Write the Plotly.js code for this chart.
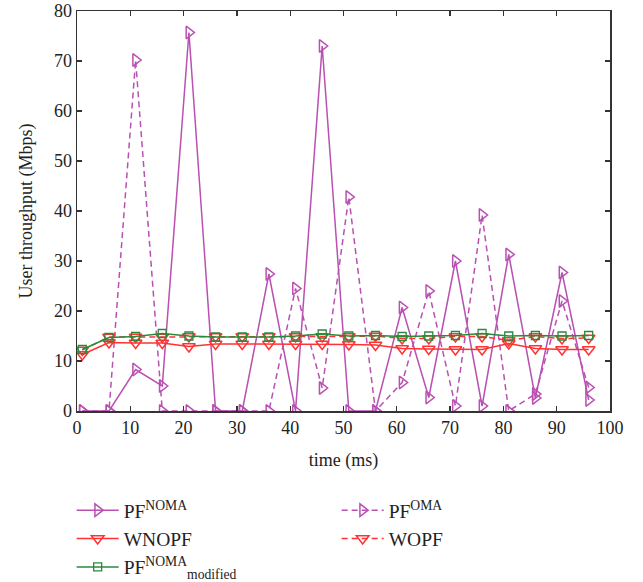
<!DOCTYPE html>
<html>
<head>
<meta charset="utf-8">
<script src="https://cdn.plot.ly/plotly-3.0.1.min.js"></script>
<style>html,body{margin:0;padding:0;background:#fff;}#chart{width:643px;height:582px;}</style>
</head>
<body>
<div id="chart"></div>
<script>
var timeMs = [1, 6, 11, 16, 21, 26, 31, 36, 41, 46, 51, 56, 61, 66, 71, 76, 81, 86, 91, 96];
var pfNoma = [0, 0, 8.3, 5.0, 75.7, 0, 0, 27.4, 0, 73.0, 0, 0, 20.7, 2.7, 30.0, 1.0, 31.3, 2.6, 27.7, 2.2];
var pfOma = [0, 0, 70.2, 0, 0, 0, 0, 0, 24.5, 4.6, 42.8, 0, 5.7, 24.0, 1.0, 39.2, 0, 3.4, 22.0, 4.7];
var wnopf = [11.3, 13.7, 13.6, 13.6, 12.9, 13.4, 13.4, 13.4, 13.4, 13.4, 13.3, 13.2, 12.5, 12.4, 12.3, 12.3, 13.5, 12.5, 12.3, 12.3];
var wopf = [12.2, 14.8, 14.8, 14.8, 14.9, 14.9, 14.9, 14.9, 14.9, 14.9, 14.9, 15.0, 14.5, 14.5, 14.9, 14.9, 14.1, 14.9, 14.5, 14.6];
var pfModified = [12.3, 14.7, 14.9, 15.5, 15.0, 14.8, 14.8, 14.8, 15.0, 15.4, 15.0, 15.1, 14.9, 15.0, 15.1, 15.5, 15.0, 15.1, 15.0, 15.1];
var xTicks = [0, 10, 20, 30, 40, 50, 60, 70, 80, 90, 100];
var yTicks = [0, 10, 20, 30, 40, 50, 60, 70, 80];

var magenta = '#b950b2';
var red = '#ff3333';
var green = '#2a8a3c';
var serif = 'Liberation Serif, Times New Roman, serif';

var traces = [
  {x: timeMs, y: pfNoma, name: 'PF<sup>NOMA</sup>', mode: 'lines+markers',
   line: {color: magenta, width: 1.5},
   marker: {symbol: 'triangle-right-open', size: 11, color: magenta, line: {width: 1.5, color: magenta}}},
  {x: timeMs, y: pfOma, name: 'PF<sup>OMA</sup>', mode: 'lines+markers',
   line: {color: magenta, width: 1.5, dash: '6px,4px'},
   marker: {symbol: 'triangle-right-open', size: 11, color: magenta, line: {width: 1.5, color: magenta}}},
  {x: timeMs, y: wnopf, name: 'WNOPF', mode: 'lines+markers',
   line: {color: red, width: 1.5},
   marker: {symbol: 'triangle-down-open', size: 11, color: red, line: {width: 1.5, color: red}}},
  {x: timeMs, y: wopf, name: 'WOPF', mode: 'lines+markers',
   line: {color: red, width: 1.5, dash: '6px,4px'},
   marker: {symbol: 'triangle-down-open', size: 11, color: red, line: {width: 1.5, color: red}}},
  {x: timeMs, y: pfModified, name: 'PF<sup>NOMA</sup><sub>modified</sub>', mode: 'lines+markers',
   line: {color: green, width: 1.5},
   marker: {symbol: 'square-open', size: 8, color: green, line: {width: 1.3, color: green}}}
];

var axisCommon = {
  showline: true, linecolor: '#333', linewidth: 1.5, mirror: 'ticks',
  ticks: 'inside', ticklen: 5, tickwidth: 1.3, tickcolor: '#333',
  showgrid: false, zeroline: false, automargin: false,
  tickfont: {family: serif, size: 18, color: '#222'}
};

var layout = {
  width: 643, height: 582,
  margin: {l: 77, r: 33, t: 11, b: 171, autoexpand: false},
  paper_bgcolor: '#fff', plot_bgcolor: '#fff',
  showlegend: true,
  xaxis: Object.assign({}, axisCommon, {
    range: [0, 100], tickvals: xTicks, ticktext: xTicks.map(String),
    title: {text: 'time (ms)', font: {family: serif, size: 18, color: '#222'}, standoff: 16}
  }),
  yaxis: Object.assign({}, axisCommon, {
    range: [0, 80], tickvals: yTicks, ticktext: yTicks.map(String),
    title: {text: 'User throughput (Mbps)', font: {family: serif, size: 18, color: '#222'}, standoff: 16}
  }),
  legend: {
    orientation: 'h', x: -0.01, xanchor: 'left', y: -0.2, yanchor: 'top',
    entrywidth: 208, entrywidthmode: 'pixels',
    font: {family: serif, size: 19.5, color: '#222'},
    tracegroupgap: 0, itemwidth: 42, bgcolor: 'rgba(0,0,0,0)'
  }
};

Plotly.newPlot('chart', traces, layout, {displayModeBar: false, staticPlot: true});
</script>
</body>
</html>
